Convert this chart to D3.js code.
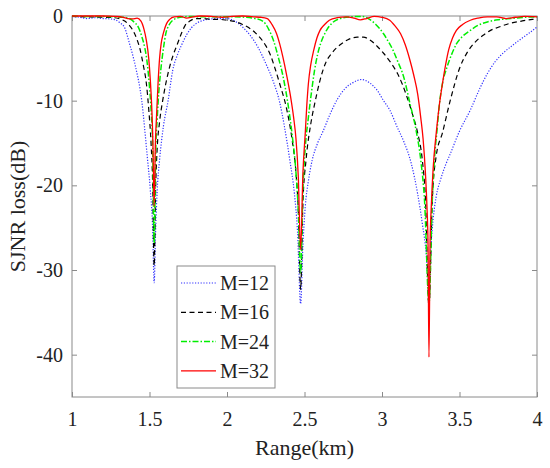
<!DOCTYPE html>
<html>
<head>
<meta charset="utf-8">
<script src="https://cdn.jsdelivr.net/npm/d3@7"></script>
<style>
  body { margin: 0; background: #fff; }
  svg text { font-family: "Liberation Serif", "DejaVu Serif", serif; fill: #222; }
</style>
</head>
<body>
<div id="chart"></div>
<script>
// SJNR loss vs range, one [km, dB] list per array size M
const m12 = [[1.00,-0.05],[1.05,-0.15],[1.10,-0.3],[1.15,-0.2],[1.20,-0.3],[1.25,-0.35],[1.28,-0.45],[1.31,-0.8],[1.34,-1.4],[1.37,-3.2],[1.41,-6],[1.45,-10],[1.485,-16.5],[1.505,-20.5],[1.52,-25],[1.53,-31.5],[1.54,-25],[1.55,-20.5],[1.565,-17],[1.59,-13],[1.62,-10],[1.65,-6.4],[1.68,-4.6],[1.71,-3.3],[1.74,-2.2],[1.77,-1.4],[1.80,-0.9],[1.85,-0.5],[1.90,-0.35],[1.95,-0.3],[2.00,-0.3],[2.05,-0.6],[2.10,-1.3],[2.15,-2.3],[2.20,-3.7],[2.25,-5.6],[2.30,-7.8],[2.34,-10.2],[2.37,-13],[2.405,-17],[2.435,-21],[2.455,-25.5],[2.475,-34],[2.49,-27],[2.505,-22.5],[2.525,-19.5],[2.55,-17],[2.585,-15],[2.62,-13.6],[2.66,-11.8],[2.71,-9.9],[2.76,-8.6],[2.81,-7.9],[2.87,-7.5],[2.92,-7.9],[2.97,-8.8],[3.01,-10],[3.05,-11.1],[3.10,-13.2],[3.14,-14.8],[3.19,-17.5],[3.23,-21],[3.26,-24.5],[3.285,-28],[3.303,-32.5],[3.315,-27.5],[3.33,-24],[3.35,-21.3],[3.38,-19.2],[3.41,-17.6],[3.44,-16.3],[3.50,-13.6],[3.57,-11.1],[3.63,-8.6],[3.68,-6.8],[3.73,-5.4],[3.78,-4.4],[3.84,-3.5],[3.89,-2.8],[3.95,-2.0],[4.00,-1.3]];

const m16 = [[1.00,-0.05],[1.10,-0.1],[1.20,-0.15],[1.27,-0.2],[1.31,-0.35],[1.34,-0.6],[1.37,-1.1],[1.39,-1.6],[1.42,-2.8],[1.44,-4],[1.46,-5.8],[1.48,-8],[1.495,-11],[1.51,-15],[1.52,-19.5],[1.53,-29.5],[1.54,-20],[1.55,-15.5],[1.565,-12.5],[1.585,-10],[1.605,-8],[1.63,-6],[1.655,-4.5],[1.68,-3.3],[1.705,-2.1],[1.73,-1.1],[1.76,-0.6],[1.80,-0.3],[1.85,-0.3],[1.90,-0.4],[1.95,-0.4],[2.00,-0.5],[2.05,-0.65],[2.10,-1.0],[2.15,-1.5],[2.20,-2.3],[2.25,-3.5],[2.28,-4.6],[2.31,-6.2],[2.34,-8],[2.385,-11],[2.42,-14.6],[2.445,-18.5],[2.46,-23],[2.475,-32.3],[2.49,-22],[2.51,-17],[2.54,-12.8],[2.57,-10],[2.60,-7.6],[2.635,-5.6],[2.68,-4.3],[2.73,-3.4],[2.78,-2.8],[2.84,-2.5],[2.88,-2.5],[2.92,-2.8],[2.97,-3.6],[3.01,-4.4],[3.06,-5.6],[3.10,-6.8],[3.13,-8],[3.16,-9.5],[3.20,-11.8],[3.23,-13.8],[3.26,-17],[3.28,-21.5],[3.303,-34.3],[3.325,-21.5],[3.35,-16.5],[3.39,-13.8],[3.44,-10],[3.50,-6.2],[3.55,-4.3],[3.59,-3.3],[3.65,-2.3],[3.70,-1.7],[3.77,-1.2],[3.83,-0.85],[3.90,-0.6],[3.97,-0.4],[4.00,-0.35]];

const m24 = [[1.00,0],[1.10,-0.05],[1.20,-0.05],[1.28,-0.1],[1.33,-0.15],[1.37,-0.3],[1.40,-0.7],[1.43,-1.4],[1.45,-2.4],[1.47,-3.8],[1.485,-5.5],[1.50,-8.4],[1.51,-11],[1.52,-15],[1.53,-26.8],[1.54,-16],[1.55,-12],[1.56,-9],[1.575,-6],[1.59,-3.8],[1.605,-2.1],[1.625,-1.1],[1.65,-0.5],[1.70,-0.15],[1.76,-0.05],[1.85,-0.1],[1.95,-0.1],[2.05,-0.1],[2.12,-0.15],[2.18,-0.3],[2.23,-0.6],[2.27,-1.6],[2.30,-2.9],[2.33,-4.8],[2.36,-7],[2.39,-10],[2.42,-14],[2.445,-18.5],[2.46,-23],[2.475,-30.3],[2.49,-20.5],[2.505,-15.5],[2.525,-12],[2.545,-9],[2.565,-6.4],[2.585,-4.5],[2.605,-3.2],[2.625,-2.3],[2.645,-1.6],[2.68,-0.8],[2.73,-0.3],[2.80,-0.1],[2.87,-0.05],[2.92,-0.4],[2.96,-1.0],[3.01,-2.1],[3.04,-3],[3.07,-4],[3.10,-5.3],[3.14,-7.2],[3.18,-10.3],[3.22,-13.5],[3.25,-17],[3.275,-22],[3.303,-34],[3.325,-21.5],[3.34,-16.5],[3.355,-13.5],[3.37,-10.5],[3.39,-8],[3.42,-6],[3.45,-4.5],[3.48,-3.3],[3.52,-2.4],[3.57,-1.7],[3.62,-1.1],[3.68,-0.7],[3.75,-0.45],[3.83,-0.3],[3.92,-0.15],[4.00,-0.1]];

const m32 = [[1.00,0],[1.10,0],[1.20,0],[1.28,-0.05],[1.33,-0.15],[1.36,-0.3],[1.39,-0.35],[1.42,-0.25],[1.445,-0.6],[1.465,-1.6],[1.48,-2.9],[1.495,-5],[1.505,-7.5],[1.515,-11],[1.522,-15],[1.53,-22.5],[1.538,-15],[1.545,-12],[1.555,-8],[1.565,-5],[1.575,-3.3],[1.59,-2],[1.61,-0.9],[1.63,-0.4],[1.66,-0.1],[1.70,-0.05],[1.74,-0.25],[1.78,-0.1],[1.83,0],[1.90,-0.05],[1.97,-0.15],[2.03,-0.05],[2.10,0],[2.17,-0.1],[2.22,-0.15],[2.26,-0.3],[2.29,-1],[2.32,-2.1],[2.34,-3.3],[2.36,-4.8],[2.385,-7],[2.41,-9.5],[2.43,-12],[2.445,-14.5],[2.46,-19],[2.475,-27.6],[2.49,-18.5],[2.505,-13.8],[2.515,-10.5],[2.525,-8],[2.54,-5.8],[2.56,-4],[2.58,-2.6],[2.60,-1.7],[2.63,-1],[2.66,-0.5],[2.71,-0.2],[2.77,-0.1],[2.82,-0.25],[2.86,-0.45],[2.90,-0.3],[2.95,-0.05],[3.00,-0.15],[3.05,-0.5],[3.085,-1.2],[3.12,-2.1],[3.15,-3.4],[3.18,-5.2],[3.205,-7],[3.23,-9.2],[3.25,-12],[3.265,-14.5],[3.28,-18.5],[3.29,-22.5],[3.297,-27],[3.303,-40.3],[3.31,-27],[3.318,-22.5],[3.33,-18],[3.35,-13.8],[3.37,-10.5],[3.39,-8],[3.41,-5.8],[3.43,-4],[3.455,-2.6],[3.48,-1.7],[3.52,-1],[3.57,-0.5],[3.62,-0.25],[3.68,-0.1],[3.74,-0.1],[3.80,-0.3],[3.86,-0.15],[3.92,-0.05],[4.00,-0.1]];

const seriesNames = ["M=12", "M=16", "M=24", "M=32"];
const xTicks = [1, 1.5, 2, 2.5, 3, 3.5, 4];
const yTicks = [0, -10, -20, -30, -40];

const styles = [
  { color: "#3030ff", width: 1.2, dash: "1.2,1.6" },
  { color: "#000000", width: 1.2, dash: "5,3.5" },
  { color: "#00ee00", width: 1.5, dash: "6,2,1.5,2" },
  { color: "#ff0000", width: 1.3, dash: null }
];

const W = 550, H = 468;
const margin = { top: 16, right: 13, bottom: 71, left: 72 };
const width = W - margin.left - margin.right;
const height = H - margin.top - margin.bottom;

const svg = d3.select("#chart").append("svg")
  .attr("width", W)
  .attr("height", H);

const g = svg.append("g")
  .attr("transform", `translate(${margin.left},${margin.top})`);

const x = d3.scaleLinear().domain([1, 4]).range([0, width]);
const y = d3.scaleLinear().domain([-45, 0]).range([height, 0]);

svg.append("defs").append("clipPath").attr("id", "plotclip")
  .append("rect").attr("x", 0).attr("y", -1).attr("width", width).attr("height", height + 1);

const axisColor = "#8a8a8a";
const tickLen = 5;
const plainFmt = d => String(d);   // keep hyphen minus like the original

// axes box with inward ticks on every side
function styleAxis(sel) {
  sel.select(".domain").remove();
  sel.selectAll(".tick line").attr("stroke", axisColor);
  sel.selectAll(".tick text")
    .style("font-size", "20px")
    .attr("fill", "#222");
}

g.append("g")
  .attr("transform", `translate(0,${height})`)
  .call(d3.axisBottom(x).tickValues(xTicks).tickSize(-tickLen).tickPadding(15).tickFormat(plainFmt))
  .call(styleAxis);

g.append("g")
  .call(d3.axisTop(x).tickValues(xTicks).tickSize(-tickLen).tickFormat(""))
  .call(styleAxis);

g.append("g")
  .call(d3.axisLeft(y).tickValues(yTicks).tickSize(-tickLen).tickPadding(9).tickFormat(plainFmt))
  .call(styleAxis);

g.append("g")
  .attr("transform", `translate(${width},0)`)
  .call(d3.axisRight(y).tickValues(yTicks).tickSize(-tickLen).tickFormat(""))
  .call(styleAxis);

g.append("rect")
  .attr("width", width)
  .attr("height", height)
  .attr("fill", "none")
  .attr("stroke", axisColor)
  .attr("stroke-width", 1);

const line = d3.line()
  .x(d => x(d[0]))
  .y(d => y(d[1]))
  .curve(d3.curveMonotoneX);

const allSeries = [m12, m16, m24, m32];

const plot = g.append("g").attr("clip-path", "url(#plotclip)");
allSeries.forEach((data, i) => {
  plot.append("path")
    .datum(data)
    .attr("fill", "none")
    .attr("stroke", styles[i].color)
    .attr("stroke-width", styles[i].width)
    .attr("stroke-dasharray", styles[i].dash)
    .attr("d", line);
});

// axis labels
svg.append("text")
  .attr("x", margin.left + width / 2)
  .attr("y", 455)
  .attr("text-anchor", "middle")
  .style("font-size", "22px")
  .text("Range(km)");

svg.append("text")
  .attr("transform", `translate(25,${margin.top + height / 2}) rotate(-90)`)
  .attr("text-anchor", "middle")
  .style("font-size", "22px")
  .text("SJNR loss(dB)");

// legend
const legend = svg.append("g").attr("transform", "translate(177,266)");
legend.append("rect")
  .attr("width", 98)
  .attr("height", 122)
  .attr("fill", "#fff")
  .attr("stroke", axisColor);

seriesNames.forEach((name, i) => {
  const ly = 17 + i * 29.3;
  legend.append("line")
    .attr("x1", 4).attr("x2", 39)
    .attr("y1", ly).attr("y2", ly)
    .attr("stroke", styles[i].color)
    .attr("stroke-width", styles[i].width)
    .attr("stroke-dasharray", styles[i].dash);
  legend.append("text")
    .attr("x", 43)
    .attr("y", ly + 7)
    .style("font-size", "20px")
    .text(name);
});
</script>
</body>
</html>
